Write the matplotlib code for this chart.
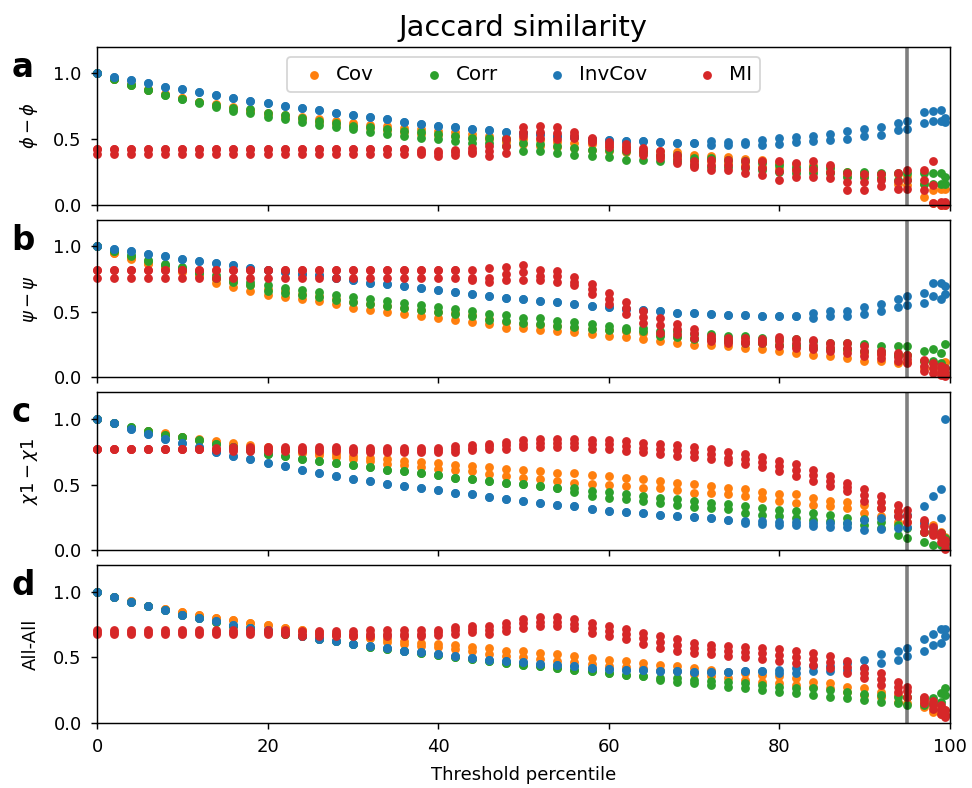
import matplotlib.pyplot as plt

# threshold percentiles (x axis), same for every panel
threshold = list(range(0, 95, 2)) + [95, 97, 98, 99, 99.5]

methods = ['Cov', 'Corr', 'InvCov', 'MI']
colors = ['tab:orange', 'tab:green', 'tab:blue', 'tab:red']

# each series is stored as replicate lists (lowest / middle / highest)
# values are: x=0..46 (24), x=48..94 (24), then x=95, 97, 98, 99, 99.5

# ---- panel a: phi - phi ----
a_cov_lo = [1.0, .955, .910, .875, .840, .810, .780, .755, .730, .710, .690, .670, .650, .630, .615, .600, .585, .570, .555, .540, .530, .520, .510, .500,
            .480, .460, .450, .440, .430, .420, .410, .400, .390, .370, .360, .340, .330, .320, .300, .290, .280, .270, .260, .250, .220, .210, .200, .160,
            .150, .060, .010, .000, .000]
a_cov_hi = [1.0, .955, .915, .880, .845, .815, .785, .765, .740, .720, .700, .685, .670, .655, .640, .625, .610, .600, .585, .575, .560, .550, .540, .525,
            .510, .500, .490, .480, .470, .460, .450, .440, .420, .410, .400, .380, .370, .360, .350, .340, .320, .310, .300, .290, .250, .240, .230, .230,
            .220, .160, .110, .120, .120]
a_corr_lo = [1.0, .955, .910, .870, .835, .805, .775, .745, .715, .700, .670, .650, .630, .610, .590, .575, .555, .540, .525, .510, .500, .485, .470, .470,
             .450, .410, .410, .390, .380, .370, .360, .340, .340, .330, .330, .300, .290, .285, .280, .265, .250, .240, .240, .240, .210, .210, .200, .190,
             .190, .160, .160, .160, .160]
a_corr_hi = [1.0, .955, .910, .870, .835, .805, .780, .760, .735, .725, .700, .680, .660, .640, .620, .600, .590, .575, .560, .550, .535, .520, .510, .510,
             .500, .470, .460, .445, .435, .420, .415, .410, .400, .380, .380, .355, .355, .340, .330, .320, .300, .290, .290, .280, .250, .250, .240, .240,
             .240, .240, .240, .240, .210]
a_inv_lo = [1.0, .972, .949, .923, .897, .879, .856, .835, .812, .792, .771, .753, .735, .717, .699, .680, .665, .650, .632, .617, .602, .589, .578, .566,
            .553, .542, .535, .522, .515, .501, .491, .488, .481, .476, .470, .468, .458, .458, .460, .455, .463, .476, .483, .496, .501, .522, .527, .568,
            .578, .620, .638, .638, .630]
a_inv_hi = [1.0, .972, .949, .923, .897, .879, .856, .835, .812, .792, .771, .753, .735, .717, .699, .680, .665, .650, .632, .617, .602, .589, .578, .566,
            .553, .542, .535, .522, .515, .501, .491, .488, .481, .476, .470, .468, .483, .480, .480, .496, .504, .517, .522, .540, .558, .578, .594, .625,
            .638, .702, .715, .720, .660]
a_mi_lo = [.385] * 19 + [.385, .370, .380, .390, .370,
           .390, .520, .510, .500, .510, .480, .440, .420, .380, .355, .320, .290, .265, .265, .240, .225, .190, .210, .210, .200, .110, .110, .140, .120,
           .120, .110, .010, .000, .000]
a_mi_mid = [.425] * 19 + [.400, .390, .400, .410, .410,
            .450, .555, .555, .545, .530, .495, .460, .440, .405, .380, .350, .310, .300, .300, .285, .280, .260, .265, .270, .250, .175, .170, .185, .180,
            .190, .190, .150, .010, .010]
a_mi_hi = [.425] * 19 + [.420, .410, .420, .430, .450,
           .500, .590, .600, .590, .550, .510, .480, .460, .430, .410, .380, .330, .340, .340, .330, .330, .330, .320, .330, .300, .240, .230, .230, .240,
           .265, .265, .330, .020, .020]

# ---- panel b: psi - psi ----
b_cov_lo = [1.0, .950, .905, .865, .835, .805, .770, .720, .690, .660, .630, .610, .600, .580, .560, .530, .515, .500, .485, .470, .455, .440, .425, .405,
            .380, .375, .360, .350, .345, .330, .315, .310, .295, .280, .264, .244, .244, .238, .226, .215, .200, .190, .174, .162, .149, .128, .123, .110,
            .120, .072, .072, .033, .020]
b_cov_hi = [1.0, .950, .910, .870, .845, .815, .780, .750, .725, .700, .670, .655, .635, .620, .600, .575, .560, .545, .530, .515, .500, .490, .475, .445,
            .420, .410, .400, .390, .380, .370, .360, .350, .340, .320, .310, .290, .290, .280, .270, .260, .250, .240, .230, .220, .210, .190, .180, .170,
            .170, .123, .110, .100, .120]
b_corr_lo = [1.0, .960, .925, .885, .855, .830, .795, .760, .730, .700, .660, .645, .630, .610, .590, .575, .560, .545, .530, .515, .500, .485, .470, .440,
             .430, .418, .410, .392, .385, .367, .360, .360, .350, .315, .310, .290, .290, .280, .264, .260, .250, .250, .226, .215, .215, .200, .200, .174,
             .174, .123, .123, .110, .072]
b_corr_hi = [1.0, .960, .930, .890, .865, .840, .805, .780, .750, .725, .700, .680, .665, .650, .630, .610, .595, .580, .565, .550, .535, .520, .505, .480,
             .475, .456, .450, .431, .420, .405, .395, .380, .380, .354, .350, .328, .328, .315, .315, .300, .290, .290, .277, .264, .264, .251, .238, .238,
             .238, .200, .213, .187, .251]
b_inv_lo = [1.0, .974, .959, .941, .923, .905, .887, .869, .854, .836, .821, .805, .790, .777, .759, .738, .721, .708, .695, .682, .667, .654, .636, .621,
            .608, .595, .579, .572, .559, .546, .533, .521, .515, .503, .492, .487, .482, .477, .472, .467, .467, .467, .456, .469, .469, .482, .508, .536,
            .554, .567, .623, .595, .636]
b_inv_hi = [1.0, .974, .959, .941, .923, .905, .887, .869, .854, .836, .821, .805, .790, .777, .759, .738, .721, .708, .695, .682, .667, .654, .636, .621,
            .608, .595, .579, .572, .559, .546, .533, .521, .515, .503, .492, .487, .482, .477, .472, .467, .467, .467, .487, .503, .508, .533, .559, .597,
            .618, .646, .721, .721, .695]
b_mi_lo = [.760] * 22 + [.745, .730,
           .738, .738, .738, .726, .700, .636, .559, .482, .418, .341, .328, .303, .277, .264, .260, .260, .238, .226, .213, .200, .187, .162, .149, .123,
           .110, .046, .033, .020, .008]
b_mi_mid = [.820] * 22 + [.760, .760,
            .790, .800, .775, .770, .730, .675, .600, .525, .460, .400, .365, .335, .295, .285, .280, .280, .275, .260, .250, .230, .225, .200, .175, .155,
            .140, .090, .070, .050, .040]
b_mi_hi = [.820] * 22 + [.820, .830,
           .841, .854, .815, .810, .764, .713, .641, .572, .508, .456, .405, .367, .315, .303, .300, .295, .308, .290, .282, .264, .264, .238, .200, .187,
           .174, .136, .110, .085, .072]

# ---- panel c: chi1 - chi1 ----
c_cov_lo = [1.0, .965, .930, .905, .885, .860, .840, .820, .800, .785, .770, .755, .740, .725, .710, .695, .680, .656, .645, .630, .620, .610, .600, .580,
            .566, .553, .540, .527, .514, .501, .496, .488, .476, .476, .455, .437, .437, .424, .411, .398, .378, .360, .347, .334, .321, .283, .257, .218,
            .218, .141, .129, .103, .064]
c_cov_hi = [1.0, .965, .930, .905, .890, .865, .845, .830, .815, .800, .785, .770, .755, .740, .730, .715, .700, .694, .680, .670, .660, .650, .640, .630,
            .617, .609, .604, .591, .584, .573, .566, .553, .540, .527, .514, .501, .488, .476, .463, .445, .429, .424, .398, .378, .368, .347, .321, .296,
            .270, .218, .193, .141, .103]
c_corr_lo = [1.0, .965, .940, .910, .880, .860, .835, .810, .785, .760, .735, .715, .695, .680, .660, .645, .630, .612, .600, .585, .573, .553, .540, .527,
             .514, .501, .488, .476, .440, .411, .400, .386, .375, .360, .342, .330, .321, .310, .283, .270, .257, .245, .231, .220, .206, .195, .167, .116,
             .090, .064, .039, .040, .026]
c_corr_hi = [1.0, .965, .940, .910, .880, .860, .835, .810, .785, .760, .735, .715, .695, .680, .660, .645, .630, .612, .600, .585, .573, .553, .540, .527,
             .514, .501, .488, .476, .476, .450, .440, .424, .410, .398, .386, .375, .360, .350, .334, .320, .308, .295, .283, .270, .244, .235, .218, .193,
             .167, .141, .141, .130, .090]
c_inv_lo = [1.0, .964, .925, .882, .848, .815, .784, .750, .720, .694, .666, .640, .614, .591, .566, .545, .524, .506, .488, .470, .455, .437, .424, .404,
            .386, .373, .360, .342, .334, .316, .300, .290, .283, .270, .262, .252, .244, .231, .205, .200, .195, .190, .185, .180, .180, .154, .160, .167,
            .180, .210, .167, .244, .050]
c_inv_hi = [1.0, .964, .925, .882, .848, .815, .784, .750, .720, .694, .666, .640, .614, .591, .566, .545, .524, .506, .488, .470, .455, .437, .424, .404,
            .386, .373, .360, .342, .334, .316, .300, .290, .283, .270, .262, .252, .244, .231, .225, .220, .215, .215, .210, .210, .210, .231, .245, .257,
            .270, .334, .410, .463, 1.0]
c_mi_lo = [.770] * 7 + [.765] + [.755] * 7 + [.745] * 6 + [.750, .760, .771,
           .771, .784, .784, .784, .784, .771, .771, .758, .745, .733, .720, .707, .694, .668, .656, .630, .604, .566, .527, .488, .450, .373, .321, .257,
           .218, .141, .116, .064, .013]
c_mi_mid = [.770] * 7 + [.770] + [.770] * 7 + [.760] * 6 + [.770, .780, .790,
            .800, .810, .815, .815, .815, .805, .805, .795, .780, .770, .760, .745, .730, .705, .695, .670, .640, .610, .570, .530, .480, .420, .365, .300,
            .260, .185, .150, .100, .045]
c_mi_hi = [.770] * 7 + [.775] + [.785] * 7 + [.775] * 6 + [.790, .800, .810,
           .823, .835, .848, .848, .848, .835, .835, .830, .815, .810, .797, .784, .771, .745, .733, .707, .681, .656, .609, .566, .514, .463, .411, .347,
           .308, .231, .180, .129, .077]

# ---- panel d: All-All ----
d_cov_lo = [1.0, .962, .925, .890, .865, .845, .820, .800, .780, .760, .745, .725, .710, .690, .675, .660, .645, .618, .600, .585, .575, .565, .550, .528,
            .508, .500, .490, .474, .464, .449, .431, .423, .418, .405, .392, .372, .354, .341, .328, .315, .303, .290, .277, .264, .238, .213, .200, .162,
            .149, .123, .085, .072, .059]
d_cov_hi = [1.0, .962, .925, .890, .865, .845, .820, .800, .780, .760, .745, .725, .710, .690, .675, .660, .645, .636, .625, .610, .600, .590, .580, .567,
            .551, .546, .533, .521, .508, .495, .482, .474, .456, .444, .431, .418, .405, .387, .379, .367, .354, .341, .315, .303, .277, .264, .238, .213,
            .200, .162, .136, .110, .097]
d_corr_lo = [1.0, .962, .923, .887, .859, .823, .797, .765, .740, .720, .700, .680, .660, .640, .620, .600, .580, .560, .545, .530, .515, .500, .487, .469,
             .456, .444, .431, .418, .405, .392, .379, .367, .354, .328, .310, .303, .290, .277, .264, .251, .238, .226, .213, .200, .187, .174, .162, .149,
             .136, .136, .149, .162, .213]
d_corr_hi = [1.0, .962, .923, .887, .859, .823, .797, .765, .740, .720, .700, .680, .660, .640, .620, .600, .580, .560, .545, .530, .515, .500, .487, .469,
             .456, .444, .431, .418, .405, .392, .379, .367, .354, .346, .341, .328, .321, .310, .303, .290, .277, .264, .264, .251, .238, .218, .213, .200,
             .200, .187, .187, .226, .264]
d_inv_lo = [1.0, .962, .923, .887, .859, .823, .797, .772, .746, .726, .705, .685, .662, .641, .623, .603, .585, .567, .551, .538, .526, .508, .495, .482,
            .469, .464, .449, .438, .431, .418, .410, .405, .400, .397, .392, .387, .387, .387, .392, .392, .379, .379, .392, .392, .405, .418, .456, .482,
            .508, .546, .592, .610, .662]
d_inv_hi = [1.0, .962, .923, .887, .859, .823, .797, .772, .746, .726, .705, .685, .662, .641, .623, .603, .585, .567, .551, .538, .526, .508, .495, .482,
            .469, .464, .449, .438, .431, .418, .410, .405, .400, .397, .392, .387, .387, .387, .392, .392, .405, .418, .431, .431, .456, .482, .521, .546,
            .572, .636, .674, .713, .713]
d_mi_lo = [.674] * 12 + [.665] * 4 + [.660] * 4 + [.670, .680, .690, .674,
           .700, .726, .738, .738, .720, .687, .662, .636, .603, .572, .546, .533, .521, .508, .500, .490, .469, .456, .444, .418, .379, .341, .290, .238,
           .200, .149, .110, .072, .046]
d_mi_mid = [.690] * 12 + [.680] * 4 + [.680] * 4 + [.690, .705, .715, .705,
            .730, .760, .770, .770, .755, .725, .700, .675, .645, .615, .590, .570, .560, .545, .540, .530, .515, .500, .490, .465, .425, .380, .335, .275,
            .240, .175, .140, .100, .070]
d_mi_hi = [.705] * 12 + [.700] * 4 + [.705] * 4 + [.710, .730, .740, .738,
           .764, .790, .803, .803, .790, .764, .738, .713, .687, .662, .636, .610, .597, .585, .577, .572, .559, .546, .533, .508, .469, .418, .379, .315,
           .277, .200, .167, .136, .097]

panels = [
    ('a', r'$\phi - \phi$', [(a_cov_lo, a_cov_hi), (a_corr_lo, a_corr_hi), (a_inv_lo, a_inv_hi), (a_mi_lo, a_mi_mid, a_mi_hi)]),
    ('b', r'$\psi - \psi$', [(b_cov_lo, b_cov_hi), (b_corr_lo, b_corr_hi), (b_inv_lo, b_inv_hi), (b_mi_lo, b_mi_mid, b_mi_hi)]),
    ('c', r'$\chi1 - \chi1$', [(c_cov_lo, c_cov_hi), (c_corr_lo, c_corr_hi), (c_inv_lo, c_inv_hi), (c_mi_lo, c_mi_mid, c_mi_hi)]),
    ('d', 'All-All', [(d_cov_lo, d_cov_hi), (d_corr_lo, d_corr_hi), (d_inv_lo, d_inv_hi), (d_mi_lo, d_mi_mid, d_mi_hi)]),
]

fig, axes = plt.subplots(4, 1, sharex=True, figsize=(972 / 130, 788 / 130), dpi=130)
fig.subplots_adjust(left=0.0998, right=0.977, top=0.9404, bottom=0.0825, hspace=0.095)

for ax, (letter, ylabel, series) in zip(axes, panels):
    for name, color, reps in zip(methods, colors, series):
        for i, vals in enumerate(reps):
            ax.scatter(threshold, vals, s=15, color=color, label=name if i == 0 else None, clip_on=False)
    ax.axvline(95, color='k', alpha=0.5, lw=2)
    ax.set_xlim(0, 100)
    ax.set_ylim(0, 1.2)
    ax.set_yticks([0, 0.5, 1.0])
    ax.tick_params(pad=5)
    ax.set_ylabel(ylabel, labelpad=7.5)
    ax.text(-0.1, 0.81, letter, transform=ax.transAxes, fontsize=18, fontweight='bold')

axes[0].set_title('Jaccard similarity', fontsize=16)
axes[0].legend(loc='upper center', ncol=4, fontsize=11, handletextpad=0.1)
axes[-1].set_xlabel('Threshold percentile', labelpad=5.3)

fig.savefig('out.png', dpi=130)
